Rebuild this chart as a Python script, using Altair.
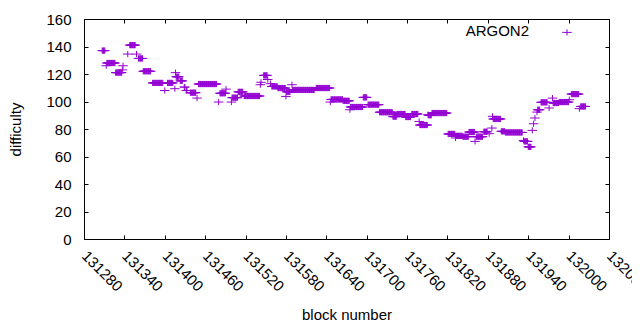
import altair as alt
import pandas as pd

# Run-length encoded series: first block, last block, difficulty
run_start = [131307, 131313, 131314, 131327, 131337, 131338, 131345, 131348, 131358, 131361,
             131368, 131382, 131400, 131404, 131415, 131416, 131417, 131423, 131429, 131432,
             131438, 131448, 131450, 131480, 131482, 131491, 131499, 131500, 131509, 131518,
             131542, 131543, 131547, 131553, 131557, 131559, 131568, 131580, 131581, 131589,
             131590, 131625, 131646, 131647, 131665, 131675, 131676, 131695, 131702, 131719,
             131739, 131745, 131758, 131767, 131778, 131779, 131791, 131792, 131797, 131821,
             131832, 131833, 131843, 131852, 131861, 131863, 131874, 131882, 131886, 131887,
             131888, 131900, 131906, 131933, 131934, 131940, 131946, 131948, 131950, 131953,
             131954, 131959, 131971, 131976, 131977, 131986, 132001, 132004, 132016, 132018]
run_end = [131311, 131313, 131326, 131336, 131337, 131338, 131345, 131356, 131358, 131367,
           131379, 131397, 131400, 131412, 131415, 131416, 131421, 131426, 131430, 131433,
           131446, 131448, 131477, 131480, 131490, 131491, 131499, 131508, 131516, 131541,
           131542, 131543, 131552, 131553, 131557, 131567, 131579, 131580, 131586, 131589,
           131622, 131645, 131646, 131664, 131674, 131675, 131694, 131700, 131718, 131738,
           131744, 131757, 131765, 131776, 131778, 131790, 131791, 131796, 131819, 131831,
           131832, 131842, 131851, 131860, 131861, 131872, 131879, 131882, 131886, 131887,
           131899, 131905, 131931, 131933, 131939, 131944, 131946, 131948, 131950, 131953,
           131957, 131968, 131971, 131976, 131985, 132000, 132001, 132015, 132016, 132025]
run_value = [137, 126, 128, 121, 123, 126, 134.5, 141, 134.5, 131.3,
             122, 113.5, 108, 113.5, 109.3, 121, 118, 115, 110.5, 108,
             106.4, 102.5, 112.7, 99.6, 106, 109, 99.6, 102.8, 107, 104,
             112.2, 114, 119, 116, 113, 111, 109.8, 103.7, 107, 112.2,
             108.4, 109.8, 99.6, 101.5, 100.5, 94, 96, 103, 97.7, 92.2,
             89, 90.9, 88.7, 90.9, 85.5, 82.9, 90.4, 90, 91.6, 76.4,
             73.5, 75, 74.4, 77.8, 71, 74.4, 78, 76.6, 80.7, 89.2,
             87.3, 78.3, 77.5, 71.7, 71, 67, 79, 83.8, 88, 92.3,
             94, 99.4, 95.3, 102.5, 98.9, 99.6, 101.3, 105.4, 94.8, 96.4]

series_name = "ARGON2"
x_ticks = list(range(131280, 132061, 60))
y_ticks = list(range(0, 161, 20))

rows = []
for s, e, v in zip(run_start, run_end, run_value):
    for b in range(s, e + 1):
        rows.append({"block": b, "difficulty": v, "series": series_name})
df = pd.DataFrame(rows)

PURPLE = "#9400D3"
FONT = "Liberation Sans"
FS = 15
CROSS = "M-1,0H1M0,-0.65V0.65"

xscale = alt.Scale(domain=[131280, 132060], nice=False, zero=False)
yscale = alt.Scale(domain=[0, 160], nice=False)

points = alt.Chart(df).mark_point(shape=CROSS, size=90, stroke=PURPLE, strokeWidth=1,
                                  filled=False, opacity=1).encode(
    x=alt.X("block:Q", scale=xscale, title="block number",
            axis=alt.Axis(values=x_ticks, format="d", orient="bottom", offset=-4, tickSize=4,
                          domain=False, labelAngle=45, labelAlign="left", labelBaseline="middle",
                          labelPadding=14, labelOverlap=False, labelBound=False, labelFlush=False,
                          titlePadding=13)),
    y=alt.Y("difficulty:Q", scale=yscale, title="difficulty",
            axis=alt.Axis(values=y_ticks, orient="left", offset=-4, tickSize=4, domain=False,
                          labelPadding=13, titlePadding=22)),
)

mirror = alt.Chart(df).mark_point(opacity=0).encode(
    x=alt.X("block:Q", scale=xscale,
            axis=alt.Axis(values=x_ticks, orient="top", offset=-4, tickSize=4, domain=False,
                          labels=False, title=None)),
    y=alt.Y("difficulty:Q", scale=yscale,
            axis=alt.Axis(values=y_ticks, orient="right", offset=-4, tickSize=4, domain=False,
                          labels=False, title=None)),
)

legend_df = pd.DataFrame({"label": [series_name]})
legend_text = alt.Chart(legend_df).mark_text(align="right", baseline="middle", font=FONT,
                                             fontSize=FS, color="black").encode(
    x=alt.value(445), y=alt.value(12), text="label:N")
legend_sym = alt.Chart(legend_df).mark_point(shape=CROSS, size=90, stroke=PURPLE, strokeWidth=1,
                                             filled=False, opacity=1).encode(
    x=alt.value(483), y=alt.value(13.4))

chart = alt.layer(points, mirror, legend_text, legend_sym).resolve_axis(
    x="independent", y="independent"
).properties(
    width=525, height=220,
    autosize=alt.AutoSizeParams(type="none"),
    padding={"left": 76, "top": 11, "right": 23, "bottom": 87},
).configure_view(stroke="black", strokeWidth=1).configure_axis(
    labelFont=FONT, titleFont=FONT, labelFontSize=FS, titleFontSize=FS,
    labelColor="black", titleColor="black", tickColor="black", titleFontWeight="normal",
    grid=False,
)

chart.save("out.html", embed_options={"renderer": "svg", "actions": False})
